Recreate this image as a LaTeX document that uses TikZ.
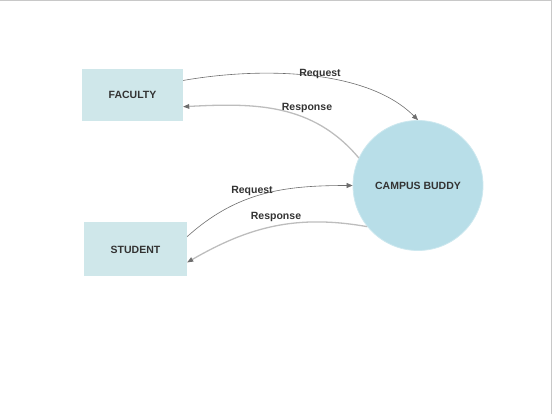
\documentclass[tikz,border=0pt]{standalone}
\usepackage{fontspec}
\setmainfont{Liberation Sans}
\usetikzlibrary{arrows.meta}
\definecolor{boxfill}{HTML}{CFE7EA}
\definecolor{circfill}{HTML}{B8DEE8}
\definecolor{circline}{HTML}{CDE8EF}
\definecolor{txt}{HTML}{333333}
\definecolor{reqline}{HTML}{6E6E6E}
\definecolor{resline}{HTML}{BDBDBD}
\definecolor{frame}{HTML}{C8C8C8}
\tikzset{
  entity/.style={rectangle, fill=boxfill, minimum width=101pt, minimum height=52pt, inner sep=0pt, font=\fontsize{10.5}{12}\selectfont\bfseries, text=txt},
  proc/.style={circle, fill=circfill, draw=circline, line width=0.8pt, minimum size=130pt, inner sep=0pt, font=\fontsize{10.5}{12}\selectfont\bfseries, text=txt},
  lbl/.style={font=\fontsize{10.5}{12}\selectfont\bfseries, text=txt, inner sep=0pt},
  reqarrow/.style={draw=reqline, line width=0.6pt, -{Triangle[length=6pt,width=5pt,fill=reqline]}},
  resarrow/.style={draw=resline, line width=1.3pt, -{Triangle[length=6pt,width=5pt,fill=reqline,line width=0pt]}}
}
\begin{document}
\begin{tikzpicture}[x=1pt,y=-1pt]
\useasboundingbox (0,0) rectangle (552,414);
\draw[frame, line width=1.2pt] (0,0.6) -- (551.4,0.6) -- (551.4,414);
\node[entity] (fac) at (132.5,95) {FACULTY};
\node[entity, minimum width=103pt, minimum height=54pt] (stu) at (135.5,249.5) {STUDENT};
\node[proc] (cb) at (418,185.5) {CAMPUS BUDDY};
\draw[reqarrow] (fac.16) to[out=10,in=135,looseness=0.8] (cb.north);
\draw[resarrow] (cb.155) to[out=130,in=3] (fac.-13);
\draw[reqarrow] (stu.14) to[out=42,in=180] (cb.west);
\draw[resarrow] (cb.219) to[out=170,in=30] (stu.-14);
\node[lbl] (l1) at (320,73.5) {Request};
\node[lbl] (l2) at (307,107.5) {Response};
\node[lbl] (l3) at (252,190.5) {Request};
\node[lbl] (l4) at (276,216.5) {Response};
\end{tikzpicture}
\end{document}
